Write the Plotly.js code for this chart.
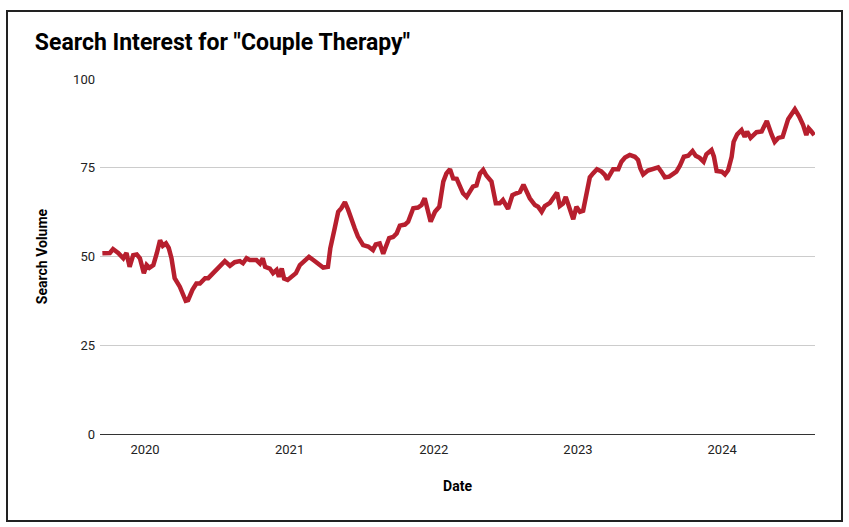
<!DOCTYPE html>
<html>
<head>
<meta charset="utf-8">
<script src="https://cdn.plot.ly/plotly-3.0.1.min.js"></script>
<style>
  body { margin: 0; background: #fff; }
  #myDiv { position: absolute; left: 0; top: 0; width: 849px; height: 527px; }
  #frame { position: absolute; left: 6px; top: 10px; width: 837px; height: 512px;
           box-sizing: border-box; border: 2px solid #222; pointer-events: none; }
</style>
</head>
<body>
<div id="myDiv"></div>
<div id="frame"></div>
<script>
// weekly search interest
var dates = [
  '2019-09-15', '2019-10-04', '2019-10-12', '2019-10-25', '2019-11-07', '2019-11-15', '2019-11-23',
  '2019-12-02', '2019-12-11', '2019-12-19', '2019-12-29', '2020-01-05', '2020-01-12', '2020-01-22',
  '2020-01-31', '2020-02-08', '2020-02-15', '2020-02-23', '2020-03-01', '2020-03-08', '2020-03-16',
  '2020-03-29', '2020-04-13', '2020-04-19', '2020-04-30', '2020-05-10', '2020-05-19', '2020-06-01',
  '2020-06-09', '2020-06-17', '2020-06-26', '2020-07-08', '2020-07-21', '2020-08-03', '2020-08-15',
  '2020-08-28', '2020-09-05', '2020-09-14', '2020-09-22', '2020-10-09', '2020-10-18', '2020-10-25',
  '2020-10-31', '2020-11-12', '2020-11-20', '2020-11-29', '2020-12-05', '2020-12-12', '2020-12-18',
  '2020-12-27', '2021-01-06', '2021-01-17', '2021-01-27', '2021-02-09', '2021-02-19', '2021-03-02',
  '2021-03-14', '2021-03-27', '2021-04-08', '2021-04-14', '2021-04-25', '2021-05-04', '2021-05-12',
  '2021-05-21', '2021-05-29', '2021-06-07', '2021-06-15', '2021-06-23', '2021-07-06', '2021-07-19',
  '2021-07-31', '2021-08-07', '2021-08-17', '2021-08-26', '2021-09-03', '2021-09-10', '2021-09-20',
  '2021-09-29', '2021-10-07', '2021-10-20', '2021-10-28', '2021-11-10', '2021-11-22', '2021-12-01',
  '2021-12-09', '2021-12-18', '2021-12-24', '2022-01-04', '2022-01-15', '2022-01-25', '2022-02-02',
  '2022-02-11', '2022-02-19', '2022-02-28', '2022-03-08', '2022-03-16', '2022-03-25', '2022-04-02',
  '2022-04-10', '2022-04-19', '2022-04-28', '2022-05-06', '2022-05-14', '2022-05-27', '2022-06-07',
  '2022-06-17', '2022-06-25', '2022-07-08', '2022-07-19', '2022-07-29', '2022-08-07', '2022-08-16',
  '2022-08-24', '2022-09-01', '2022-09-14', '2022-09-22', '2022-10-01', '2022-10-09', '2022-10-22',
  '2022-10-30', '2022-11-09', '2022-11-16', '2022-11-24', '2022-12-01', '2022-12-09', '2022-12-20',
  '2022-12-28', '2023-01-06', '2023-01-14', '2023-01-23', '2023-01-31', '2023-02-08', '2023-02-18',
  '2023-03-01', '2023-03-10', '2023-03-16', '2023-03-23', '2023-03-31', '2023-04-13', '2023-04-21',
  '2023-04-30', '2023-05-12', '2023-05-25', '2023-06-02', '2023-06-08', '2023-06-15', '2023-06-27',
  '2023-07-10', '2023-07-23', '2023-07-31', '2023-08-09', '2023-08-20', '2023-09-07', '2023-09-16',
  '2023-09-26', '2023-10-07', '2023-10-18', '2023-10-26', '2023-11-05', '2023-11-15', '2023-11-22',
  '2023-12-05', '2023-12-11', '2023-12-18', '2023-12-31', '2024-01-08', '2024-01-16', '2024-01-25',
  '2024-01-30', '2024-02-08', '2024-02-19', '2024-02-27', '2024-03-04', '2024-03-13', '2024-03-21',
  '2024-03-28', '2024-04-10', '2024-04-23', '2024-05-05', '2024-05-13', '2024-05-22', '2024-06-02',
  '2024-06-16', '2024-06-24', '2024-07-03', '2024-07-14', '2024-07-24', '2024-08-01', '2024-08-07',
  '2024-08-14', '2024-08-21'
];

var volume = [
  50.9, 51, 52.1, 51, 49.5, 51, 47.1,
  50.4, 50.6, 49.5, 45.3, 47.6, 46.8, 47.6,
  51, 54.6, 53, 53.7, 52.4, 49.5, 43.9,
  41.5, 37.5, 37.7, 40.6, 42.4, 42.4, 43.9,
  43.9, 44.8, 46.2, 47.6, 48.7, 47.4, 48.4,
  48.7, 48.1, 49.5, 49, 49, 48, 49.5,
  47.1, 46.6, 45.3, 46.2, 44.3, 46.6, 43.8,
  43.4, 44.3, 45.3, 47.6, 49, 49.9, 49,
  48, 46.9, 47.1, 52.3, 57.9, 62.6, 63.6,
  65.3, 63.2, 60.8, 57.9, 55.6, 53.2, 52.8,
  51.8, 53.4, 53.7, 50.8, 53.4, 55.2, 55.5,
  56.5, 58.7, 59, 59.8, 63.6, 63.8, 64.5,
  66.4, 61.7, 59.8, 62.6, 64, 71.1, 73.4,
  74.6, 72, 71.9, 69.7, 67.8, 66.8, 68.2,
  69.7, 70, 73.4, 74.4, 72.8, 71.1, 65,
  65, 65.9, 63.4, 67.3, 67.8, 68.2, 70.2,
  68.6, 66.4, 64.5, 64, 62.6, 64.2, 65.1,
  66.4, 68, 64.2, 64.9, 66.8, 64, 60.5,
  64, 62.6, 62.9, 67.3, 72.3, 73.4, 74.6,
  74, 73, 71.7, 73.4, 74.6, 74.6, 76.7,
  77.9, 78.6, 78.1, 77.2, 74.8, 73.1, 74.2,
  74.8, 75.1, 73.9, 72.3, 72.5, 73.9, 75.6,
  78.1, 78.4, 79.7, 78.4, 77.8, 76.7, 78.8,
  80, 78.2, 74.1, 73.9, 73.1, 74.3, 78.1,
  82.3, 84.4, 85.6, 83.7, 85.2, 83.4, 84.1,
  85, 85.2, 88.2, 84.4, 82.3, 83.4, 83.7,
  88.7, 89.9, 91.5, 89.4, 87, 84.2, 86.1,
  85.2, 84.2
];

var yTicks = [0, 25, 50, 75, 100];

var trace1 = {
  x: dates,
  y: volume,
  mode: 'lines',
  type: 'scatter',
  line: { color: '#b71f2e', width: 4.5 },
  hoverinfo: 'x+y'
};

var layout = {
  width: 849,
  height: 527,
  margin: { l: 100, r: 34, t: 79, b: 93 },
  paper_bgcolor: '#fff',
  plot_bgcolor: '#fff',
  showlegend: false,
  font: { family: 'Roboto, sans-serif', size: 13, color: '#222' },
  title: {
    text: 'Search Interest for "Couple Therapy"',
    font: { family: 'Roboto, sans-serif', size: 23, color: '#000', weight: 'bold' },
    x: 0.041,
    xanchor: 'left',
    xref: 'container',
    y: 0.92,
    yanchor: 'middle',
    yref: 'container'
  },
  xaxis: {
    type: 'date',
    range: ['2019-09-09', '2024-08-23'],
    tick0: '2020-01-01',
    dtick: 'M12',
    tickformat: '%Y',
    showgrid: false,
    showline: true,
    linecolor: '#333',
    linewidth: 1,
    ticks: '',
    ticklabelstandoff: 3,
    tickfont: { size: 13, color: '#222' },
    title: {
      text: 'Date',
      font: { size: 14, color: '#000', weight: 'bold' },
      standoff: 25
    }
  },
  yaxis: {
    range: [0, 100],
    tickvals: yTicks,
    showgrid: true,
    gridcolor: '#cccccc',
    gridwidth: 1,
    zeroline: false,
    ticks: '',
    ticklabelstandoff: 4,
    tickfont: { size: 13, color: '#222' },
    title: {
      text: 'Search Volume',
      font: { size: 14, color: '#000', weight: 'bold' },
      standoff: 22
    }
  }
};

Plotly.newPlot('myDiv', [trace1], layout, { displayModeBar: false, staticPlot: true });
</script>
</body>
</html>
